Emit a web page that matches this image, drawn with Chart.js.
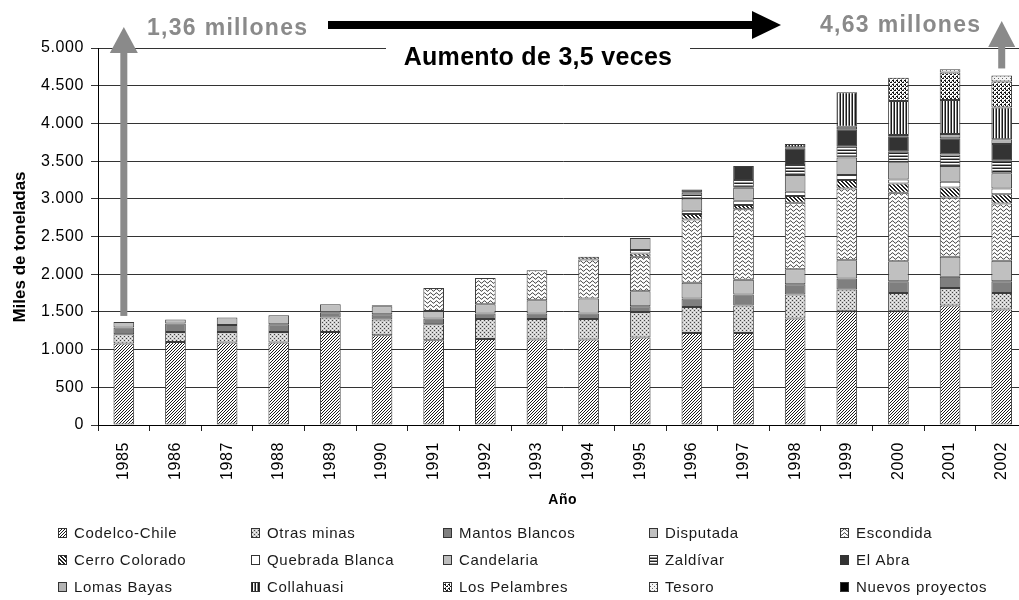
<!DOCTYPE html>
<html><head><meta charset="utf-8">
<style>
html,body{margin:0;padding:0;background:#fff;overflow:hidden;width:1019px;height:600px}
#wrap{position:relative;width:1019px;height:600px;overflow:hidden}
canvas{display:block}
</style>
<script src="https://cdn.jsdelivr.net/npm/chart.js@4.4.1/dist/chart.umd.min.js"></script>
</head><body>
<div id="wrap"><canvas id="c" width="1032" height="600" style="width:1032px;height:600px"></canvas></div>
<script>
// ---- data (miles de toneladas) ----
const years = ['1985','1986','1987','1988','1989','1990','1991','1992','1993','1994','1995','1996','1997','1998','1999','2000','2001','2002'];
const codelco        = [1080,1101,1093,1093,1234,1190,1124,1141,1133,1133,1159,1221,1221,1411,1509,1509,1584,1531];
const otrasMinas     = [123,133,141,141,191,208,212,266,274,274,340,345,363,319,287,243,234,221];
const mantosBlancos  = [89,111,93,102,70,71,75,71,71,71,76,111,146,137,146,155,147,155];
const disputada      = [75,53,98,119,106,106,102,123,177,199,199,208,195,199,244,266,265,270];
const escondida      = [null,null,null,null,null,12,305,350,398,518,456,841,935,881,952,907,788,762];
const cerroColorado  = [null,null,null,null,null,null,null,null,null,35,45,71,57,89,110,124,133,123];
const quebradaBlanca = [null,null,null,null,null,null,null,null,null,null,45,44,58,57,67,53,75,76];
const candelaria     = [null,null,null,null,null,null,null,null,null,null,160,164,173,222,234,235,208,201];
const zaldivar       = [null,null,null,null,null,null,null,null,null,null,null,75,101,133,142,133,155,164];
const elAbra         = [null,null,null,null,null,null,null,null,null,null,null,44,186,221,230,199,213,225];
const lomasBayas     = [null,null,null,null,null,null,null,null,null,null,null,null,null,15,36,22,57,62];
const collahuasi     = [null,null,null,null,null,null,null,null,null,null,null,null,null,42,456,451,452,421];
const losPelambres   = [null,null,null,null,null,null,null,null,null,null,null,null,null,null,null,310,363,345];
const tesoro         = [null,null,null,null,null,null,null,null,null,null,null,null,null,null,null,null,44,80];
const nuevosProyectos= [null,null,null,null,null,null,null,null,null,null,null,null,null,null,null,null,null,null];

const seriesNames = ['Codelco-Chile','Otras minas','Mantos Blancos','Disputada','Escondida',
  'Cerro Colorado','Quebrada Blanca','Candelaria','Zaldívar','El Abra',
  'Lomas Bayas','Collahuasi','Los Pelambres','Tesoro','Nuevos proyectos'];
const seriesValues = [codelco,otrasMinas,mantosBlancos,disputada,escondida,cerroColorado,quebradaBlanca,
  candelaria,zaldivar,elAbra,lomasBayas,collahuasi,losPelambres,tesoro,nuevosProyectos];

const yTickValues = [0,500,1000,1500,2000,2500,3000,3500,4000,4500,5000];
const yTickLabels = ['0','500','1.000','1.500','2.000','2.500','3.000','3.500','4.000','4.500','5.000'];

const yTitle = 'Miles de toneladas';
const xTitle = 'Año';
const labelStart = '1,36 millones';
const labelEnd = '4,63 millones';
const labelGrowth = 'Aumento de 3,5 veces';

// ---- patterns ----
const mainCtx = document.getElementById('c').getContext('2d');
function pat(w,h,draw){
  const c=document.createElement('canvas');c.width=w;c.height=h;
  const g=c.getContext('2d');draw(g,w,h);
  return mainCtx.createPattern(c,'repeat');
}
function solid(col){return col;}
const fills = [
  // Codelco: fine "/" hatch
  pat(3,3,(g)=>{g.fillStyle='#fff';g.fillRect(0,0,3,3);g.fillStyle='#1a1a1a';for(let i=0;i<3;i++)g.fillRect(i,2-i,1,1);}),
  // Otras minas: dotted gray
  pat(4,4,(g)=>{g.fillStyle='#cfcfcf';g.fillRect(0,0,4,4);g.fillStyle='#444';g.fillRect(0,0,1,1);g.fillRect(2,2,1,1);g.fillStyle='#f2f2f2';g.fillRect(2,0,1,1);g.fillRect(0,2,1,1);}),
  solid('#7f7f7f'),
  solid('#c0c0c0'),
  // Escondida: wavy
  pat(6,4,(g)=>{g.fillStyle='#fff';g.fillRect(0,0,6,4);g.strokeStyle='#222';g.lineWidth=1;g.beginPath();
     for(let x=-0.5;x<=6.5;x+=0.5){const y=2+1.2*Math.sin(2*Math.PI*x/6);if(x===-0.5)g.moveTo(x,y);else g.lineTo(x,y);}g.stroke();}),
  // Cerro Colorado: "\" hatch
  pat(4,4,(g)=>{g.fillStyle='#fff';g.fillRect(0,0,4,4);g.fillStyle='#222';for(let i=0;i<4;i++){g.fillRect(i,i,1,1);g.fillRect((i+1)%4,i,1,1);}}),
  solid('#ffffff'),
  solid('#bdbdbd'),
  // Zaldívar: horizontal stripes
  pat(1,3,(g)=>{g.fillStyle='#fff';g.fillRect(0,0,1,3);g.fillStyle='#222';g.fillRect(0,0,1,1);g.fillStyle='#999';g.fillRect(0,2,1,1);}),
  solid('#333333'),
  solid('#b3b3b3'),
  // Collahuasi: vertical stripes
  pat(3,1,(g)=>{g.fillStyle='#fff';g.fillRect(0,0,3,1);g.fillStyle='#1a1a1a';g.fillRect(0,0,1,1);g.fillStyle='#888';g.fillRect(2,0,1,1);}),
  // Los Pelambres: coarse dots
  pat(4,4,(g)=>{g.fillStyle='#fff';g.fillRect(0,0,4,4);g.fillStyle='#111';g.fillRect(0,0,2,1);g.fillRect(2,2,2,1);g.fillRect(1,1,1,1);g.fillStyle='#777';g.fillRect(1,3,1,1);g.fillRect(3,1,1,1);}),
  // Tesoro: sparse dots
  pat(4,4,(g)=>{g.fillStyle='#f4f4f4';g.fillRect(0,0,4,4);g.fillStyle='#666';g.fillRect(0,0,1,1);g.fillRect(2,2,1,1);}),
  solid('#000000')
];

const datasets = seriesNames.map((n,i)=>({
  label:n, data:seriesValues[i], backgroundColor:fills[i],
  borderColor:'#3c3c3c', borderWidth:1, borderSkipped:false,
  barPercentage:0.4, categoryPercentage:1.0, stack:'s'
}));

const totals = years.map((_,j)=>seriesValues.reduce((s,a)=>s+(a[j]||0),0));

function drawArrowUp(ctx,cx,yBottom,yHeadBase,yTip,shaftW,headW,color){
  ctx.fillStyle=color;
  ctx.fillRect(cx-shaftW/2,yHeadBase,shaftW,yBottom-yHeadBase);
  ctx.beginPath();ctx.moveTo(cx-headW/2,yHeadBase);ctx.lineTo(cx,yTip);ctx.lineTo(cx+headW/2,yHeadBase);ctx.closePath();ctx.fill();
}

const spacingPlugin = {id:'spacing', beforeDraw(chart){ chart.ctx.letterSpacing='0.6px'; }};

const annot = {
  id:'annot',
  afterDraw(chart){
    const {ctx, scales:{x,y}} = chart;
    ctx.save();
    // white box behind growth label
    ctx.fillStyle='#fff';
    ctx.fillRect(386,40,304,34);
    ctx.fillStyle='#000';
    ctx.font='bold 25px "Liberation Sans", Arial, sans-serif';
    ctx.letterSpacing='0.3px';
    ctx.textAlign='center';ctx.textBaseline='alphabetic';
    ctx.fillText(labelGrowth,538,65);
    // black arrow
    ctx.fillStyle='#000';
    ctx.fillRect(328,21,424,8);
    ctx.beginPath();ctx.moveTo(752,11);ctx.lineTo(781,25);ctx.lineTo(752,39);ctx.closePath();ctx.fill();
    // gray labels
    ctx.fillStyle='#8a8a8a';
    ctx.font='bold 23px "Liberation Sans", Arial, sans-serif';
    ctx.letterSpacing='1.3px';
    ctx.textAlign='left';
    ctx.fillText(labelStart,147,35);
    ctx.fillText(labelEnd,820,32);
    // gray arrows
    const x0=x.getPixelForValue(0), y0=y.getPixelForValue(totals[0]);
    drawArrowUp(ctx,x0,y0-6,53,27,7,28,'#8a8a8a');
    const xN=x.getPixelForValue(years.length-1), yN=y.getPixelForValue(totals[years.length-1]);
    drawArrowUp(ctx,xN,yN-7,47,21,7,27,'#8a8a8a');
    // y axis title
    ctx.save();
    ctx.translate(20,247);ctx.rotate(-Math.PI/2);
    ctx.fillStyle='#000';ctx.font='bold 17px "Liberation Sans", Arial, sans-serif';
    ctx.letterSpacing='0px';
    ctx.textAlign='center';ctx.textBaseline='middle';
    ctx.fillText(yTitle,0,0);
    ctx.restore();
    // legend
    const colX=[58,251,443,649,840], rowY=[533,560,587];
    ctx.font='15px "Liberation Sans", Arial, sans-serif';
    ctx.letterSpacing='0.7px';
    ctx.textAlign='left';ctx.textBaseline='middle';
    chart.data.datasets.forEach((ds,i)=>{
      const cx=colX[i%5], cy=rowY[Math.floor(i/5)];
      ctx.fillStyle=ds.backgroundColor;
      ctx.fillRect(cx,cy-5,8,9);
      ctx.strokeStyle='#333';ctx.lineWidth=1;
      ctx.strokeRect(cx+0.5,cy-4.5,8,9);
      ctx.fillStyle='#1a1a1a';
      ctx.fillText(ds.label,cx+16,cy+1);
    });
    ctx.restore();
  }
};

new Chart(mainCtx,{
  type:'bar',
  data:{labels:years,datasets:datasets},
  options:{
    responsive:false, animation:false, devicePixelRatio:1,
    layout:{padding:{left:0,right:3,top:48,bottom:90}},
    plugins:{legend:{display:false},tooltip:{enabled:false}},
    scales:{
      x:{
        stacked:true,
        grid:{display:true,drawOnChartArea:false,drawTicks:true,tickLength:6,color:'#222',offset:true},
        border:{display:true,color:'#000',width:1},
        ticks:{autoSkip:false,minRotation:90,maxRotation:90,padding:11,color:'#000',
               font:{family:'"Liberation Sans", Arial, sans-serif',size:16}},
        title:{display:true,text:xTitle,color:'#000',padding:{top:0,bottom:1},
               font:{family:'"Liberation Sans", Arial, sans-serif',size:14,weight:'bold'}},
        afterFit:(s)=>{s.height=85;}
      },
      y:{
        stacked:true,min:0,max:5000,
        afterBuildTicks:(s)=>{s.ticks=yTickValues.map(v=>({value:v}));},
        grid:{color:'#333',lineWidth:1,tickLength:7,drawTicks:true},
        border:{display:true,color:'#000',width:1},
        ticks:{padding:7,color:'#000',
               font:{family:'"Liberation Sans", Arial, sans-serif',size:16},
               callback:(v)=>{const k=yTickValues.indexOf(v);return k>=0?yTickLabels[k]:'';}},
        afterFit:(s)=>{s.width=98;}
      }
    }
  },
  plugins:[spacingPlugin,annot]
});
</script>
</body></html>
